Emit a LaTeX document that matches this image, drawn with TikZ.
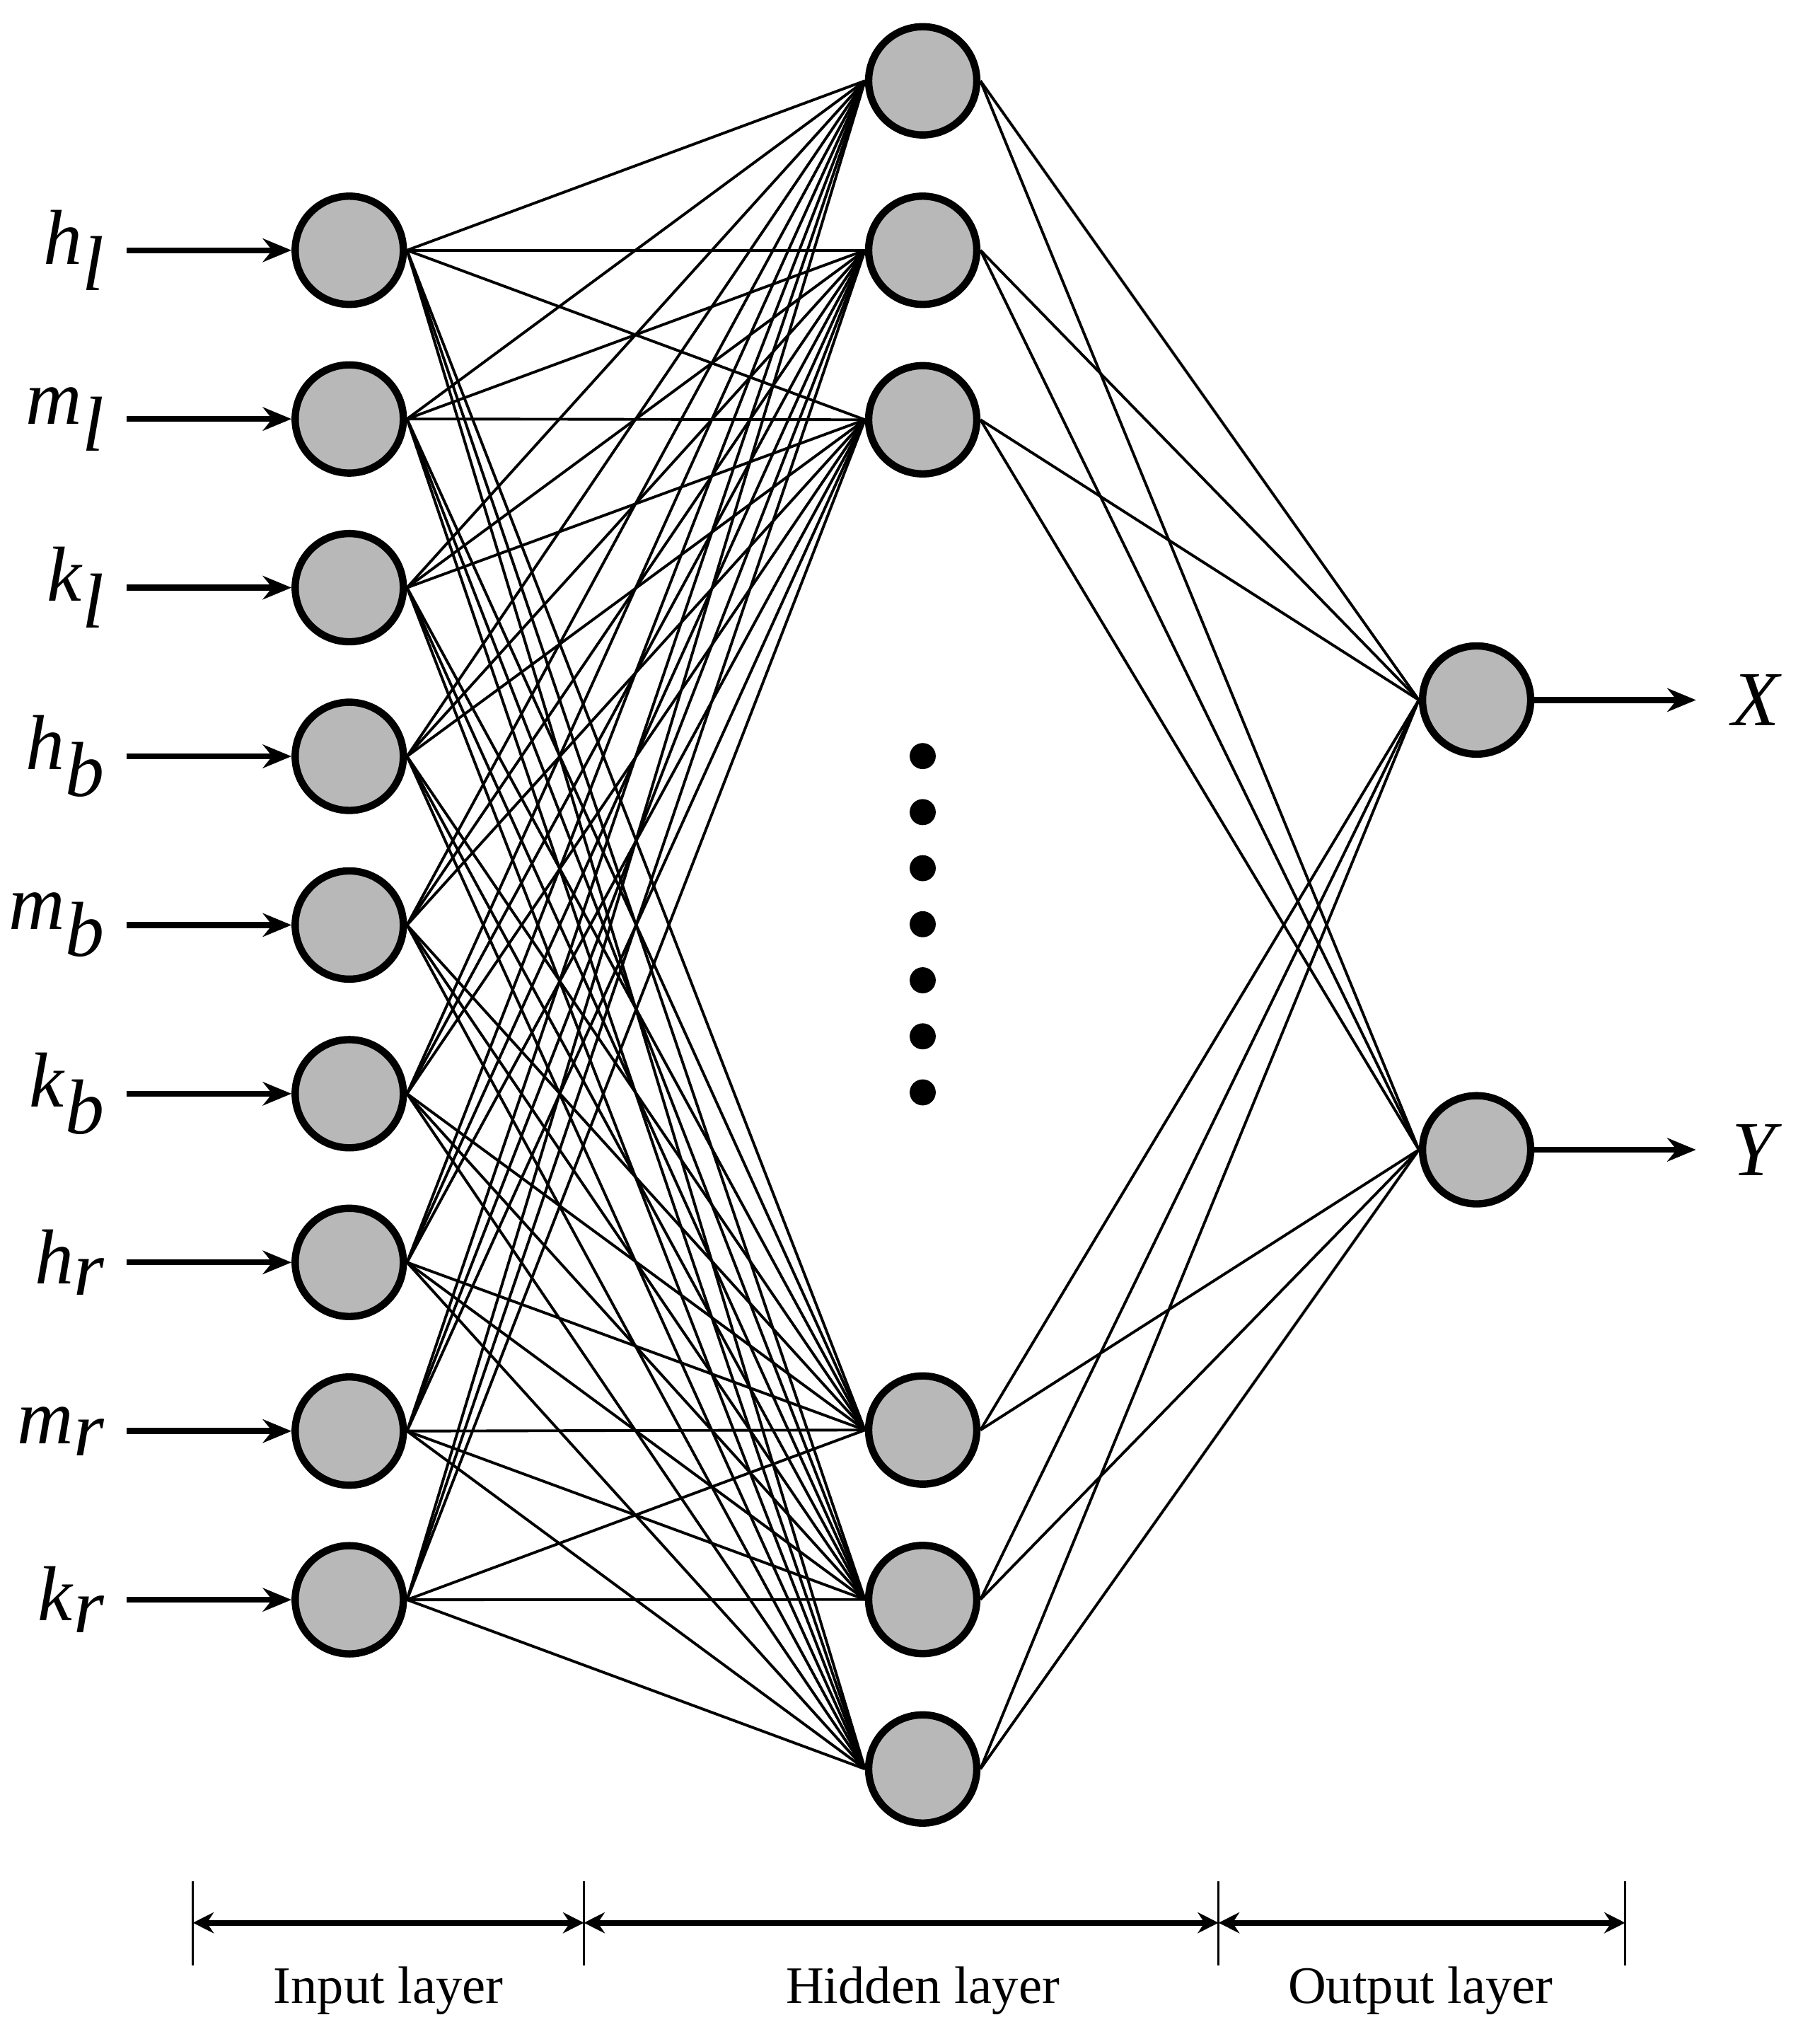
\documentclass[tikz,border=0pt]{standalone}
\usepackage{fontspec}
\setmainfont{Liberation Serif}
\usetikzlibrary{arrows.meta,positioning}
\definecolor{nodefill}{HTML}{B8B8B8}
\tikzset{
  neuron/.style={circle, draw=black, fill=nodefill, line width=1.6pt, minimum size=0.83cm, inner sep=0pt},
  link/.style={draw=black, line width=0.6pt},
  feed/.style={draw=black, line width=1.3pt, -{Stealth[length=2.2mm,width=1.8mm]}},
  var/.style={font=\fontsize{17}{19}\selectfont},
  bar/.style={draw=black, line width=0.5pt},
  span/.style={draw=black, line width=1.2pt, {Stealth[length=1.6mm,width=1.6mm]}-{Stealth[length=1.6mm,width=1.6mm]}},
  laylab/.style={font=\fontsize{11.5}{13}\selectfont},
  dotmark/.style={circle, fill=black, inner sep=0pt, minimum size=0.2cm},
}
\begin{document}
\begin{tikzpicture}
\useasboundingbox (0,0) rectangle (13.83,-15.68);

% input layer
\foreach \n/\v/\s in {1/h/l,2/m/l,3/k/l,4/h/b,5/m/b,6/k/b,7/h/r,8/m/r,9/k/r}{
  \node[neuron] (in\n) at (2.68,{-1.92-1.294*(\n-1)}) {};
  \node[var, anchor=east] (lab\n) at (0.94,{-1.92-1.294*(\n-1)}) {\textit{\v}$_{\textit{\s}}$};
  \draw[feed] ([xshift=0.3mm]lab\n.east) -- (in\n.west);
}

% hidden layer
\foreach \n/\y in {1/0.62,2/1.92,3/3.22,4/10.97,5/12.27,6/13.57}{
  \node[neuron] (hid\n) at (7.08,-\y) {};
}
\foreach \k in {0,...,6}{
  \node[dotmark] (dot\k) at (7.08,{-5.80-0.43*\k}) {};
}

% output layer
\node[neuron] (out1) at (11.33,-5.37) {};
\node[neuron] (out2) at (11.33,-8.82) {};
\node[var] (X) at (13.48,-5.37) {\textit{X}};
\node[var] (Y) at (13.48,-8.82) {\textit{Y}};
\draw[feed] (out1.east) -- ([xshift=-1.5mm]X.west);
\draw[feed] (out2.east) -- ([xshift=-1.5mm]Y.west);

% weights
\foreach \i in {1,...,9}{
  \foreach \j in {1,...,6}{
    \draw[link] (in\i.east) -- (hid\j.west);
  }
}
\foreach \j in {1,...,6}{
  \foreach \o in {1,2}{
    \draw[link] (hid\j.east) -- (out\o.west);
  }
}

% layer spans
\foreach \b/\x in {1/1.48,2/4.48,3/9.35,4/12.47}{
  \coordinate (b\b) at (\x,-14.75);
  \draw[bar] (\x,-14.43) -- (\x,-15.08);
}
\draw[span] (b1) -- (b2);
\draw[span] (b2) -- (b3);
\draw[span] (b3) -- (b4);
\node[laylab] (lin) at (2.98,-15.27) {Input layer};
\node[laylab] (lhid) at (7.08,-15.27) {Hidden layer};
\node[laylab] (lout) at (10.90,-15.27) {Output layer};
\end{tikzpicture}
\end{document}
